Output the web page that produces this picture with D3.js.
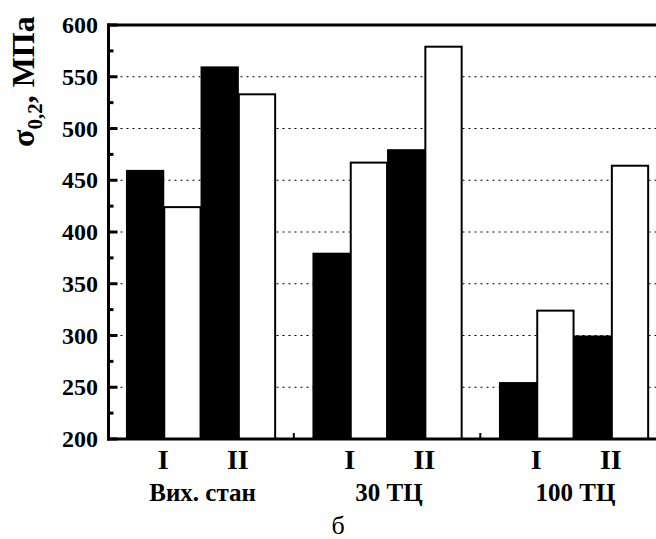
<!DOCTYPE html>
<html><head><meta charset="utf-8">
<script src="https://cdn.jsdelivr.net/npm/d3@7"></script>
<style>
html,body{margin:0;padding:0;background:#fff;}
svg{display:block;}
text{font-family:"Liberation Serif","Times New Roman",serif;}
</style></head>
<body>
<svg id="chart" width="656" height="539"></svg>
<script>
const groups = ["Вих. стан", "30 ТЦ", "100 ТЦ"];
const states = ["I", "II"];
// values ordered: group0 I, group0 II, group1 I, group1 II, group2 I, group2 II
const blackValues = [460, 560, 380, 480, 255, 300];
const whiteValues = [425, 534, 468, 580, 325, 465];
const yTicks = [200, 250, 300, 350, 400, 450, 500, 550, 600];
const yMinor = [225, 275, 325, 375, 425, 475, 525, 575];
const gridValues = [250, 300, 350, 400, 450, 500, 550];
const panelLabel = "б";

(function () {
const svg = d3.select("#chart");
const pLeft = 108.5, pTop = 25, pBottom = 439, pRight = 667;
const x = d3.scaleLinear().domain([-0.5, 14.5]).range([107.3, 666.8]);
const y = d3.scaleLinear().domain([200, 600]).range([pBottom, pTop]);

// grid
svg.append("g").selectAll("line").data(gridValues).join("line")
  .attr("x1", pLeft).attr("x2", pRight)
  .attr("y1", d => y(d)).attr("y2", d => y(d))
  .attr("stroke", "#000").attr("stroke-width", 1.1).attr("stroke-dasharray", "2,4");

// bars
const bars = [];
groups.forEach((g, gi) => {
  states.forEach((s, si) => {
    const idx = gi * 2 + si;
    bars.push({slot: gi * 5 + si * 2, v: blackValues[idx], fill: "#000"});
    bars.push({slot: gi * 5 + si * 2 + 1, v: whiteValues[idx], fill: "#fff"});
  });
});
svg.append("g").selectAll("rect").data(bars).join("rect")
  .attr("x", d => x(d.slot) + 1)
  .attr("width", d => x(d.slot + 1) - x(d.slot) - 1)
  .attr("y", d => y(d.v) + 1)
  .attr("height", d => pBottom - y(d.v) - 1)
  .attr("fill", d => d.fill)
  .attr("stroke", "#000").attr("stroke-width", 2);

// frame
svg.append("line").attr("x1", pLeft).attr("x2", pLeft).attr("y1", pTop - 1.5).attr("y2", pBottom + 1.5)
  .attr("stroke", "#000").attr("stroke-width", 3);
svg.append("line").attr("x1", pLeft - 1.5).attr("x2", pRight).attr("y1", pTop).attr("y2", pTop)
  .attr("stroke", "#000").attr("stroke-width", 3);
svg.append("line").attr("x1", pLeft - 1.5).attr("x2", pRight).attr("y1", pBottom).attr("y2", pBottom)
  .attr("stroke", "#000").attr("stroke-width", 3);

// y ticks
svg.append("g").selectAll("line").data(yTicks).join("line")
  .attr("x1", pLeft).attr("x2", pLeft + 9).attr("y1", d => y(d)).attr("y2", d => y(d))
  .attr("stroke", "#000").attr("stroke-width", 3);
svg.append("g").selectAll("line").data(yMinor).join("line")
  .attr("x1", pLeft).attr("x2", pLeft + 5).attr("y1", d => y(d)).attr("y2", d => y(d))
  .attr("stroke", "#000").attr("stroke-width", 3);
svg.append("g").selectAll("text").data(yTicks).join("text")
  .attr("x", 98).attr("y", d => y(d) + 8)
  .attr("text-anchor", "end").attr("font-size", 24).attr("font-weight", "bold")
  .text(d => d);

// x minor ticks between groups
svg.append("g").selectAll("line").data([4.5, 9.5]).join("line")
  .attr("x1", d => x(d)).attr("x2", d => x(d)).attr("y1", pBottom).attr("y2", pBottom - 6)
  .attr("stroke", "#000").attr("stroke-width", 2);

// state labels
const stateLabels = [];
groups.forEach((g, gi) => states.forEach((s, si) => stateLabels.push({pos: gi * 5 + si * 2 + 1, s})));
svg.append("g").selectAll("text").data(stateLabels).join("text")
  .attr("x", d => x(d.pos)).attr("y", 469)
  .attr("text-anchor", "middle").attr("font-size", 28).attr("font-weight", "bold")
  .text(d => d.s);

// group labels
svg.append("g").selectAll("text").data(groups).join("text")
  .attr("x", (d, i) => x(i * 5 + 2) + 2).attr("y", 501)
  .attr("text-anchor", "middle").attr("font-size", 25).attr("font-weight", "bold")
  .text(d => d);

// y title
const t = svg.append("text").attr("transform", "translate(34,147) rotate(-90)")
  .attr("font-size", 32).attr("font-weight", "bold");
t.append("tspan").text("σ");
t.append("tspan").attr("font-size", 21).attr("dy", 8).text("0,2");
t.append("tspan").attr("dy", -8).text(", МПа");

// panel label
svg.append("text").attr("x", 338).attr("y", 534).attr("text-anchor", "middle")
  .attr("font-size", 26).text(panelLabel);
})();
</script>
</body></html>
